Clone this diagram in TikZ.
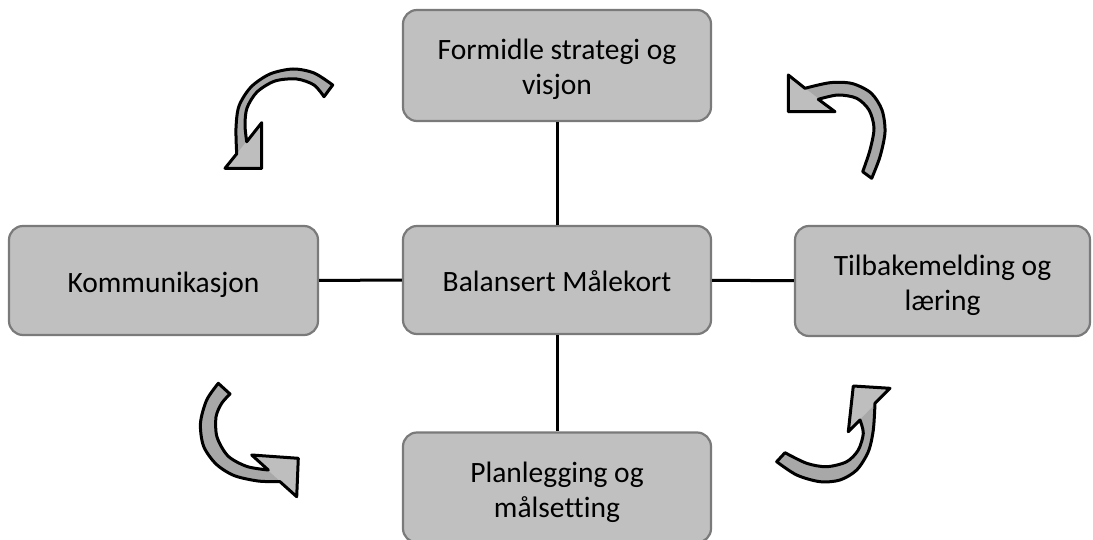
\documentclass[tikz,border=0pt]{standalone}
\usepackage{fontspec}
\setmainfont{Carlito}[Ligatures=NoCommon]
\definecolor{boxfill}{HTML}{C0C0C0}
\definecolor{boxline}{HTML}{7A7A7A}
\definecolor{bandfill}{HTML}{A8A8A8}
\definecolor{headfill}{HTML}{BEBEBE}
% fixed line metrics so every label sits on the same baseline grid
\newcommand\hi{\rule{0pt}{32pt}}
\newcommand\lo{\rule[-8pt]{0pt}{8pt}}
\begin{document}
\begin{tikzpicture}[x=1pt,y=-1pt,
  box/.style={draw=boxline, fill=boxfill, line width=2.2pt, rounded corners=14pt,
    align=center, inner sep=0pt, font=\fontsize{29.5}{35}\selectfont, text=black},
  link/.style={line width=3pt, black},
  outline/.style={draw=black, line width=3pt, line join=round}]

\fill[white] (0,0) rectangle (1093,540);
\useasboundingbox (0,0) rectangle (1093,540);

% boxes
\node[box, minimum width=308pt, minimum height=111pt] (top) at (557,65.5) {\hi Formidle strategi og\\visjon\lo};
\node[box, minimum width=308pt, minimum height=108pt] (mid) at (557,280) {\hi Balansert Målekort\lo};
\node[box, minimum width=309pt, minimum height=109pt] (left) at (163.5,280.5) {\hi Kommunikasjon\lo};
\node[box, minimum width=295pt, minimum height=110pt] (right) at (942.5,281) {\hi Tilbakemelding og\\læring\lo};
\node[box, minimum width=308pt, minimum height=110pt] (bot) at (557,487.5) {\hi Planlegging og\\målsetting\lo};

% connectors
\draw[link] (top) -- (mid);
\draw[link] (mid) -- (bot);
\draw[link] (left) -- (mid);
\draw[link] (mid) -- (right);

% curved arrows: band outline, then lighter head, then the stroke on top
\def\arrowA{(324,96.7) -- (332.7,85) -- plot[smooth] coordinates {(332.7,85) (314,73) (293,69) (270,74) (251,87) (239,106) (236,128) (236.7,153.8)} -- (225,168.3) -- (261.7,168.3) -- (261.7,122.7) -- plot[smooth] coordinates {(246.7,141.7) (245,125) (247,108) (257,92) (275,81) (296.7,79) (314,85) (324,96.7)} -- cycle}
\def\arrowB{(862.7,171.7) -- (871.7,178.3) -- plot[smooth] coordinates {(871.7,178.3) (880,156.7) (885,132) (882,110) (871,93) (852,83.5) (830,82.7) (805,88.3)} -- (788.3,75) -- (788.3,111.7) -- (835,111.7) -- plot[smooth] coordinates {(818.3,99.3) (838,95) (856.7,98.3) (869,110) (874,128) (870,150) (862.7,171.7)} -- cycle}
\def\arrowC{(230,394) -- (218.3,383.3) -- plot[smooth] coordinates {(218.3,383.3) (206.7,400) (200.5,423) (203.5,446) (216,464) (234,475.5) (258,481) (280,481.7)} -- (296.7,496.7) -- (298.3,458.3) -- (251.7,455) -- plot[smooth] coordinates {(268.3,470) (247,466.5) (228,456) (217,437) (216,417) (221.7,403.3) (230,394)} -- cycle}
\def\arrowD{(785,452.7) -- (776.7,461.7) -- plot[smooth] coordinates {(776.7,461.7) (796.7,475) (820,481.7) (840,480) (856.7,470) (868.3,451.7) (873.3,430) (875,403.3)} -- (890,388.3) -- (853.3,386) -- (848.3,431.7) -- plot[smooth] coordinates {(860,420) (863.3,433.3) (858.3,450) (846.7,461.7) (826.7,466.7) (806.7,463.3) (785,452.7)} -- cycle}

\fill[bandfill] \arrowA;
\fill[headfill] (225,168.3) -- (261.7,168.3) -- (261.7,122.7) -- cycle;
\draw[outline] \arrowA;

\fill[bandfill] \arrowB;
\fill[headfill] (788.3,75) -- (788.3,111.7) -- (835,111.7) -- cycle;
\draw[outline] \arrowB;

\fill[bandfill] \arrowC;
\fill[headfill] (296.7,496.7) -- (298.3,458.3) -- (251.7,455) -- cycle;
\draw[outline] \arrowC;

\fill[bandfill] \arrowD;
\fill[headfill] (890,388.3) -- (853.3,386) -- (848.3,431.7) -- cycle;
\draw[outline] \arrowD;

\end{tikzpicture}
\end{document}
